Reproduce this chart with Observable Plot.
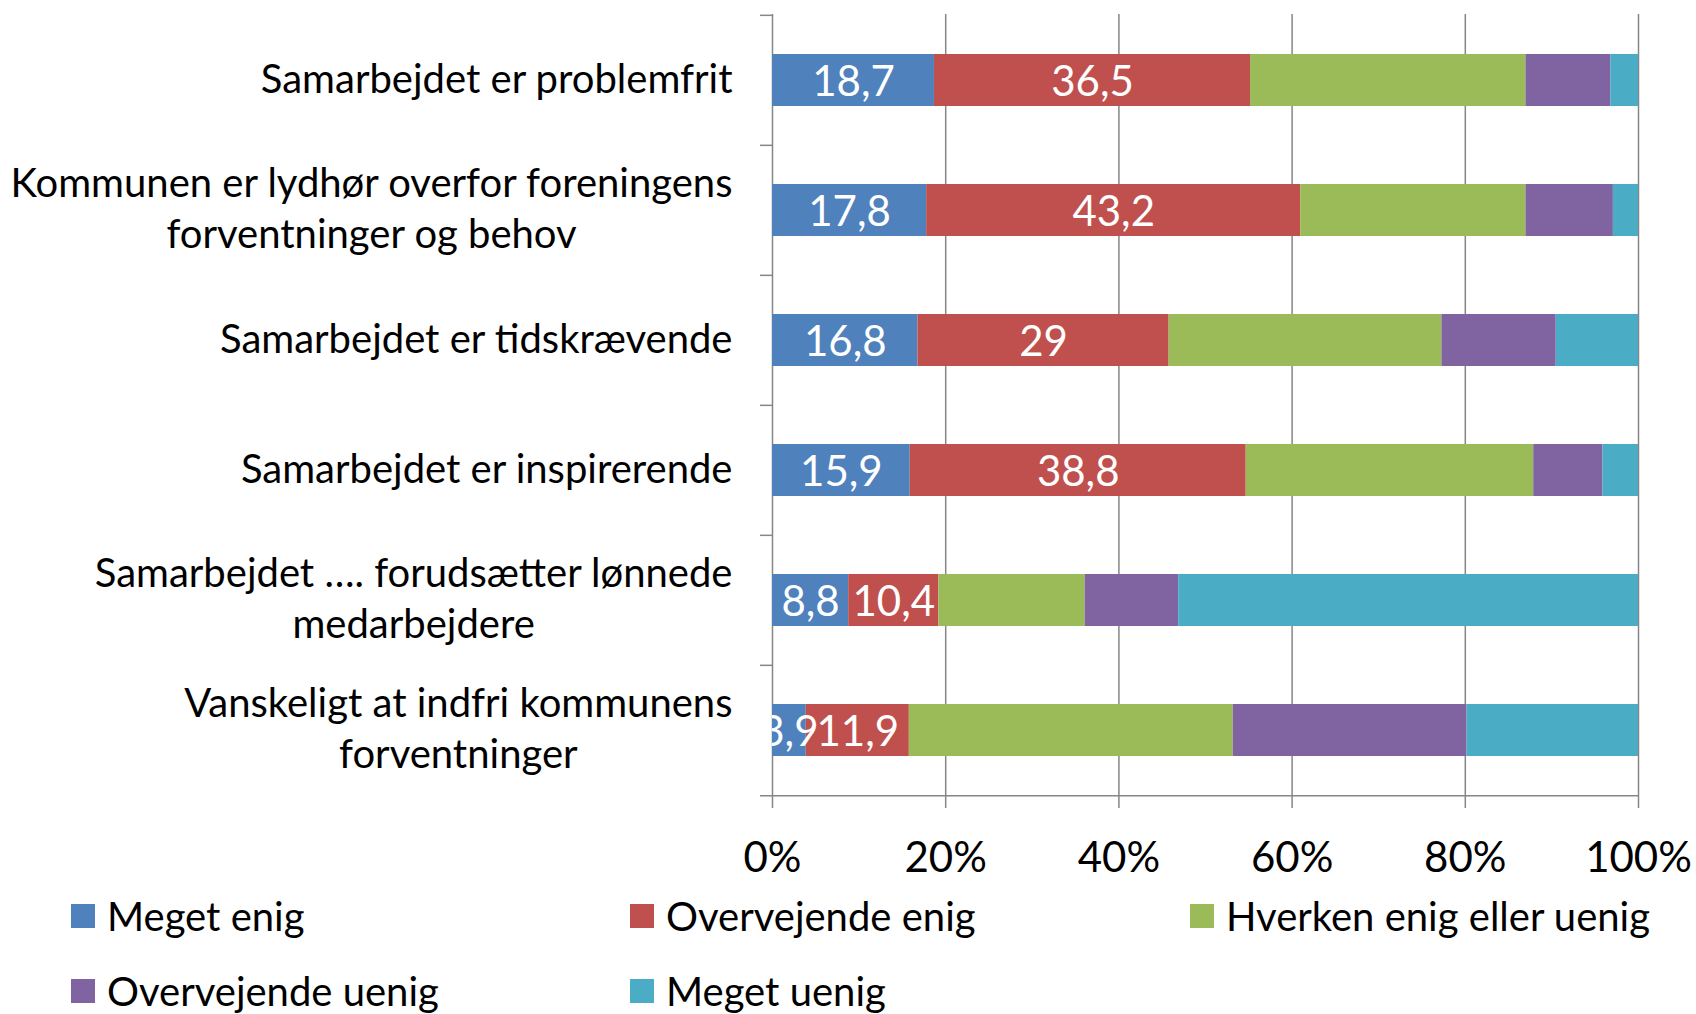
<!DOCTYPE html>
<html>
<head>
<meta charset="utf-8">
<script src="https://cdn.jsdelivr.net/npm/d3@7"></script>
<script src="https://cdn.jsdelivr.net/npm/@observablehq/plot@0.6"></script>
<style>
  html, body { margin: 0; padding: 0; background: #fff; }
  #wrap { width: 1696px; height: 1014px; position: relative; overflow: hidden; font-family: Lato, sans-serif; }
  #legend { position: relative; width: 1696px; height: 134px; }
  .li { position: absolute; display: flex; align-items: center; font-size: 40px; color: #000; white-space: nowrap; }
  .sw { width: 24px; height: 24px; margin-right: 12px; flex: none; }
</style>
</head>
<body>
<div id="wrap"><div id="chart"></div><div id="legend"></div></div>
<script>
const categories = [
  "Samarbejdet er problemfrit",
  "Kommunen er lydhør overfor foreningens\nforventninger og behov",
  "Samarbejdet er tidskrævende",
  "Samarbejdet er inspirerende",
  "Samarbejdet …. forudsætter lønnede\nmedarbejdere",
  "Vanskeligt at indfri kommunens\nforventninger"
];
const series = ["Meget enig", "Overvejende enig", "Hverken enig eller uenig", "Overvejende uenig", "Meget uenig"];
const colors = ["#4F81BD", "#C0504D", "#9BBB59", "#8064A2", "#4BACC6"];
const megetEnig        = [18.7, 17.8, 16.8, 15.9,  8.8,  3.9];
const overvejendeEnig  = [36.5, 43.2, 29.0, 38.8, 10.4, 11.9];
const hverken          = [31.8, 26.0, 31.5, 33.2, 16.9, 37.4];
const overvejendeUenig = [ 9.8, 10.1, 13.2,  8.0, 10.8, 27.0];
const megetUenig       = [ 3.2,  2.9,  9.5,  4.1, 53.1, 19.8];
const labeledSeries = ["Meget enig", "Overvejende enig"];
const xTicks = [0, 20, 40, 60, 80, 100];

const seriesValues = [megetEnig, overvejendeEnig, hverken, overvejendeUenig, megetUenig];
const data = [];
categories.forEach((c, i) => {
  series.forEach((s, j) => data.push({category: c, series: s, value: seriesValues[j][i]}));
});
const fmt = v => String(v).replace(".", ",");

const W = 1696, H = 880, mT = 14, mB = 84, mL = 772, mR = 58;
const step = (H - mT - mB) / categories.length;
const grid = "#868686";
const FS = 40;

const chart = Plot.plot({
  width: W, height: H,
  marginLeft: mL, marginRight: mR, marginTop: mT, marginBottom: mB,
  style: {fontFamily: "Lato, sans-serif", fontSize: FS + "px", color: "#000", background: "#fff", overflow: "visible"},
  x: {domain: [0, 100], axis: null, label: null},
  y: {domain: categories, paddingInner: 0.6, paddingOuter: 0.3, axis: null, label: null},
  color: {domain: series, range: colors},
  marks: [
    Plot.ruleX(xTicks, {stroke: grid, strokeWidth: 1.5}),
    Plot.barX(data, {x: "value", y: "category", fill: "series"}),
    Plot.text(data, Plot.stackX({
      x: "value", y: "category", z: "series",
      text: d => labeledSeries.includes(d.series) ? fmt(d.value) : "",
      fill: "white", fontSize: 42, dy: 2, clip: true
    })),
    Plot.ruleY(categories, {y: d => d, x1: 0, x2: 0, dy: -step / 2, insetLeft: -12, stroke: grid, strokeWidth: 1.5}),
    Plot.ruleY([categories[categories.length - 1]], {y: d => d, x1: 0, x2: 100, dy: step / 2, insetLeft: -12, stroke: grid, strokeWidth: 1.5}),
    Plot.axisX({ticks: xTicks, tickFormat: d => d + "%", tickSize: 12, tickPadding: 34, stroke: grid, strokeWidth: 1.5, fontSize: 42, label: null}),
    Plot.axisY({tickSize: 0, tickPadding: 40, lineHeight: 1.28, fontSize: FS, dy: -4, label: null})
  ]
});
document.getElementById("chart").appendChild(chart);

// center multi-line y labels (Excel style), keeping right edge of the longest line
chart.querySelectorAll('g[aria-label="y-axis tick label"] text').forEach(t => {
  const spans = t.querySelectorAll("tspan");
  if (spans.length < 2) return;
  let maxW = 0;
  spans.forEach(s => { maxW = Math.max(maxW, s.getComputedTextLength()); });
  t.setAttribute("text-anchor", "middle");
  spans.forEach(s => s.setAttribute("x", -maxW / 2));
});

// legend
const legendPos = [[71, 36], [630, 36], [1190, 36], [71, 111], [630, 111]];
const leg = document.getElementById("legend");
series.forEach((s, i) => {
  const el = document.createElement("div");
  el.className = "li";
  el.style.left = legendPos[i][0] + "px";
  el.style.top = (legendPos[i][1] - 25) + "px";
  el.style.height = "50px";
  el.innerHTML = `<span class="sw" style="background:${colors[i]}"></span><span>${s}</span>`;
  leg.appendChild(el);
});
</script>
</body>
</html>
